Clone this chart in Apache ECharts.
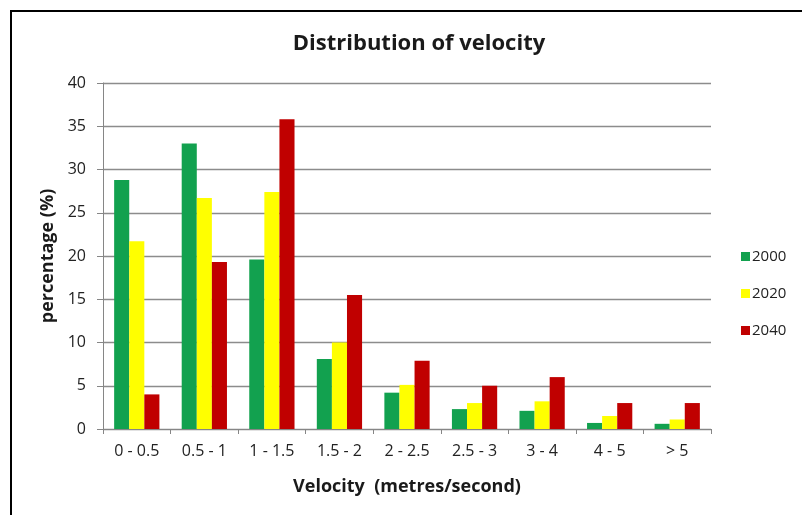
<!DOCTYPE html>
<html>
<head>
<meta charset="utf-8">
<script src="https://cdn.jsdelivr.net/npm/echarts@6/dist/echarts.min.js"></script>
<style>
  html, body { margin: 0; padding: 0; background: #fff; }
  #chart { width: 802px; height: 515px; }
</style>
</head>
<body>
<div id="chart"></div>
<script>
// Velocity bands (m/s)
const categories = ['0 - 0.5', '0.5 - 1', '1 - 1.5', '1.5 - 2', '2 - 2.5', '2.5 - 3', '3 - 4', '4 - 5', '> 5'];

// Share of each band, percent
const years = ['2000', '2020', '2040'];
const values2000 = [28.8, 33.0, 19.6, 8.1, 4.2, 2.3, 2.1, 0.7, 0.6];
const values2020 = [21.7, 26.7, 27.4, 10.0, 5.1, 3.0, 3.2, 1.5, 1.1];
const values2040 = [4.0, 19.3, 35.8, 15.5, 7.9, 5.0, 6.0, 3.0, 3.0];

const yTicks = { min: 0, max: 40, interval: 5 };

const colors = ['#12a14f', '#ffff00', '#c00000'];
const font = '"Open Sans", Lato, sans-serif';

const chart = echarts.init(document.getElementById('chart'), null, { renderer: 'canvas' });

const seriesData = [values2000, values2020, values2040];

chart.setOption({
  animation: false,
  backgroundColor: '#ffffff',
  textStyle: { fontFamily: font },
  title: {
    text: 'Distribution of velocity',
    left: 414,
    textAlign: 'center',
    top: 28,
    textStyle: { fontFamily: font, fontSize: 22, fontWeight: 'bold', color: '#1a1a1a' }
  },
  graphic: [{
    type: 'polyline',
    shape: { points: [[11, 520], [11, 11], [810, 11]] },
    style: { stroke: '#000', lineWidth: 2, fill: null },
    silent: true
  }],
  legend: {
    orient: 'vertical',
    left: 736,
    top: 244,
    itemGap: 22,
    itemWidth: 9,
    itemHeight: 9,
    icon: 'rect',
    data: years,
    textStyle: { fontFamily: font, fontSize: 15, color: '#222', padding: [0, 0, 0, -3] }
  },
  grid: { left: 103, right: 91, top: 83, bottom: 86, containLabel: false },
  xAxis: {
    type: 'category',
    data: categories,
    name: 'Velocity  (metres/second)',
    nameLocation: 'middle',
    nameGap: 49,
    nameTextStyle: { fontFamily: font, fontSize: 18, fontWeight: 'bold', color: '#1a1a1a' },
    axisLine: { lineStyle: { color: '#868686', width: 1 } },
    axisTick: { show: true, length: 5, lineStyle: { color: '#868686' } },
    axisLabel: { fontFamily: font, fontSize: 16, color: '#222', margin: 14 },
    splitLine: { show: false }
  },
  yAxis: {
    type: 'value',
    min: yTicks.min,
    max: yTicks.max,
    interval: yTicks.interval,
    name: 'percentage (%)',
    nameLocation: 'middle',
    nameGap: 46,
    nameTextStyle: { fontFamily: font, fontSize: 18, fontWeight: 'bold', color: '#1a1a1a' },
    axisLine: { show: true, lineStyle: { color: '#868686', width: 1 } },
    axisTick: { show: true, length: 6, lineStyle: { color: '#868686' } },
    axisLabel: { fontFamily: font, fontSize: 16, color: '#222', margin: 17 },
    splitLine: { show: true, lineStyle: { color: '#8c8c8c', width: 1.3 } }
  },
  series: years.map((y, i) => ({
    name: y,
    type: 'bar',
    data: seriesData[i],
    barGap: '0%',
    barCategoryGap: '33%',
    itemStyle: { color: colors[i] }
  }))
});
</script>
</body>
</html>
